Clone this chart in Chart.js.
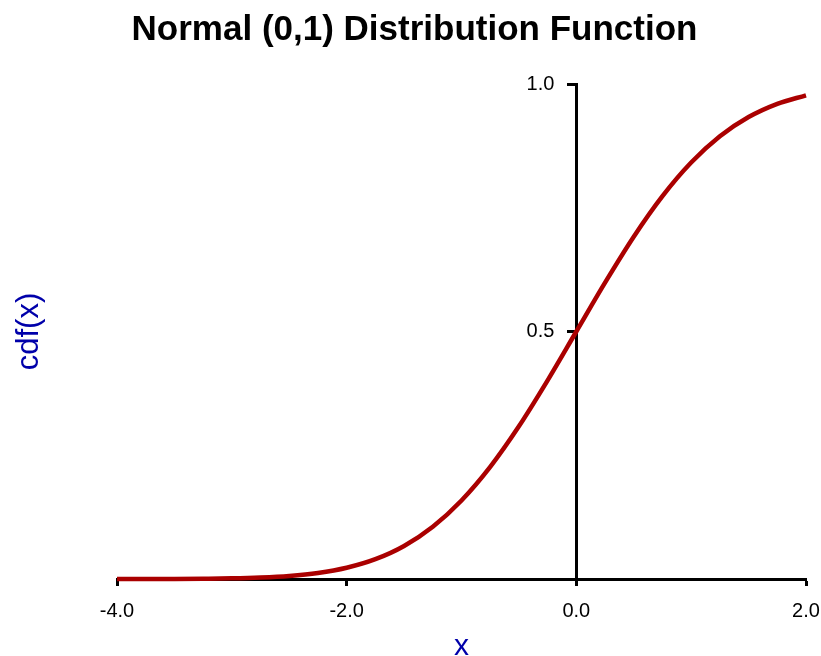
<!DOCTYPE html>
<html>
<head>
<meta charset="utf-8">
<script src="https://cdn.jsdelivr.net/npm/chart.js@4/dist/chart.umd.min.js"></script>
<style>
  html, body { margin: 0; padding: 0; background: #fff; }
  #wrap { width: 821px; height: 656px; }
</style>
</head>
<body>
<div id="wrap"><canvas id="cdfChart" width="821" height="656"></canvas></div>
<script>
// values
const xValues = [-4.0, -3.75, -3.5, -3.25, -3.0, -2.75, -2.5, -2.25, -2.0, -1.75, -1.5, -1.25,
                 -1.0, -0.75, -0.5, -0.25, 0.0, 0.25, 0.5, 0.75, 1.0, 1.25, 1.5, 1.75, 2.0];
const cdfValues = [0.0000, 0.0001, 0.0002, 0.0006, 0.0013, 0.0030, 0.0062, 0.0122, 0.0228, 0.0401, 0.0668, 0.1056,
                   0.1587, 0.2266, 0.3085, 0.4013, 0.5000, 0.5987, 0.6915, 0.7734, 0.8413, 0.8944, 0.9332, 0.9599, 0.9772];
const xTicks = [-4.0, -2.0, 0.0, 2.0];
const yTicks = [0.5, 1.0];

const titleText = 'Normal (0,1) Distribution Function';
const xLabel = 'x';
const yLabel = 'cdf(x)';

// y axis sits at x = 0, chart.js puts its labels right on the line, so draw them with a gap
const yTickLabels = {
    id: 'yTickLabels',
    afterDraw(chart) {
        const c = chart.ctx;
        const ys = chart.scales.y;
        const x0 = chart.scales.x.getPixelForValue(0);
        c.save();
        c.fillStyle = '#000';
        c.font = '20px "Liberation Sans"';
        c.textAlign = 'right';
        c.textBaseline = 'middle';
        yTicks.forEach(v => c.fillText(v.toFixed(1), x0 - 22, ys.getPixelForValue(v)));
        c.restore();
    }
};

const ctx = document.getElementById('cdfChart').getContext('2d');

new Chart(ctx, {
    type: 'line',
    data: {
        datasets: [{
            data: xValues.map((x, i) => ({ x: x, y: cdfValues[i] })),
            borderColor: '#aa0000',
            borderWidth: 4.5,
            pointRadius: 0,
            cubicInterpolationMode: 'monotone',
            fill: false,
            clip: false
        }]
    },
    plugins: [yTickLabels],
    options: {
        responsive: false,
        animation: false,
        layout: { padding: { left: 8, right: 0, top: 0, bottom: 0 } },
        plugins: {
            legend: { display: false },
            tooltip: { enabled: false },
            title: {
                display: true,
                text: titleText,
                color: '#000',
                font: { family: 'Liberation Sans', size: 35, weight: 'bold' },
                padding: { top: 9, bottom: 33 }
            }
        },
        scales: {
            x: {
                type: 'linear',
                position: 'bottom',
                min: -4, max: 2,
                afterBuildTicks: s => { s.ticks = xTicks.map(v => ({ value: v })); },
                afterFit: s => { s.paddingRight = 15; },
                ticks: {
                    color: '#000',
                    font: { family: 'Liberation Sans', size: 20 },
                    padding: 13,
                    maxRotation: 0,
                    callback: v => v.toFixed(1)
                },
                grid: { display: true, drawOnChartArea: false, tickLength: 7, tickWidth: 3, tickColor: '#000' },
                border: { display: true, color: '#000', width: 3 },
                title: {
                    display: true,
                    text: xLabel,
                    color: '#0000aa',
                    font: { family: 'Liberation Sans', size: 30 },
                    padding: { top: -7, bottom: -9 }
                }
            },
            y: {
                type: 'linear',
                position: { x: 0 },
                min: 0, max: 1,
                afterBuildTicks: s => { s.ticks = yTicks.map(v => ({ value: v })); },
                afterFit: s => { s.width = 0; },
                ticks: { display: false },
                grid: { display: true, drawOnChartArea: false, tickLength: 8, tickWidth: 3, tickColor: '#000' },
                border: { display: true, color: '#000', width: 3 }
            },
            yTitle: {
                type: 'linear',
                position: 'left',
                min: 0, max: 1,
                ticks: { display: false },
                grid: { display: false },
                border: { display: false },
                afterFit: s => { s.width = 109; },
                title: {
                    display: true,
                    text: yLabel,
                    color: '#0000aa',
                    font: { family: 'Liberation Sans', size: 31 },
                    padding: { top: 3, bottom: 0 }
                }
            }
        }
    }
});
</script>
</body>
</html>
